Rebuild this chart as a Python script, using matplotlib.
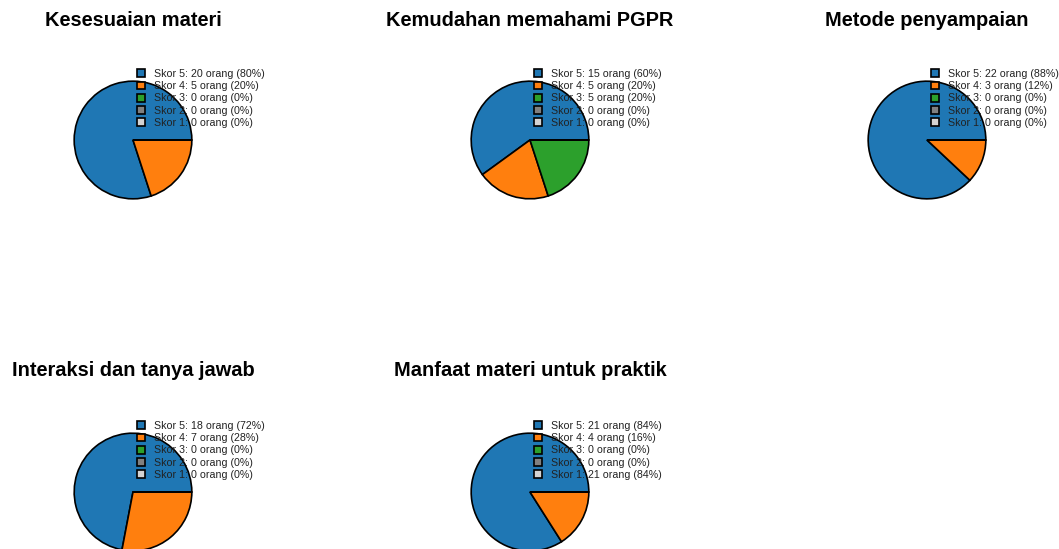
import matplotlib.pyplot as plt

plt.rcParams['font.family'] = ['Liberation Sans', 'DejaVu Sans']

titles = [
    "Kesesuaian materi",
    "Kemudahan memahami PGPR",
    "Metode penyampaian",
    "Interaksi dan tanya jawab",
    "Manfaat materi untuk praktik",
]
skor = [5, 4, 3, 2, 1]
# counts per score (Skor 5 .. Skor 1), 25 respondents
counts = [
    [20, 5, 0, 0, 0],
    [15, 5, 5, 0, 0],
    [22, 3, 0, 0, 0],
    [18, 7, 0, 0, 0],
    [21, 4, 0, 0, 0],
]
# numbers written in the legend (last panel repeats Skor 5 on Skor 1, as in the source)
legend_counts = [
    [20, 5, 0, 0, 0],
    [15, 5, 5, 0, 0],
    [22, 3, 0, 0, 0],
    [18, 7, 0, 0, 0],
    [21, 4, 0, 0, 21],
]
total = 25
colors = ["#1f77b4", "#ff7f0e", "#2ca02c", "#808080", "#d3d3d3"]

W, H = 1059, 549
fig = plt.figure(figsize=(W / 100, H / 100), dpi=100)

# pie centres in pixels (from top-left)
centres = [(133, 140), (530, 140), (927, 140), (133, 492), (530, 492)]
r = 60

for i, (cx, cy) in enumerate(centres):
    ax = fig.add_axes([(cx - r) / W, 1 - (cy + r) / H, 2 * r / W, 2 * r / H])
    wedges, _ = ax.pie(counts[i], colors=colors, radius=1,
                       wedgeprops=dict(edgecolor="black", linewidth=1.2))
    ax.set_xlim(-1.02, 1.02)
    ax.set_ylim(-1.02, 1.02)
    ax.axis("off")

    labels = [f"Skor {s}: {n} orang ({n / total * 100:.0f}%)"
              for s, n in zip(skor, legend_counts[i])]
    leg = ax.legend(wedges, labels, loc="upper left",
                    bbox_to_anchor=((cx + 4) / W, 1 - (cy - 71) / H),
                    bbox_transform=fig.transFigure, frameon=False,
                    borderpad=0, borderaxespad=0, fontsize=7.7,
                    handlelength=0.75, handleheight=0.75, handletextpad=0.85,
                    labelspacing=0.21)
    for t in leg.get_texts():
        t.set_color("#222222")

    ty = 20 if cy < 300 else 370
    fig.text(cx / W, 1 - ty / H, titles[i], ha="center", va="center",
             fontsize=14.4, fontweight="bold")

fig.savefig("out.png", dpi=100)
